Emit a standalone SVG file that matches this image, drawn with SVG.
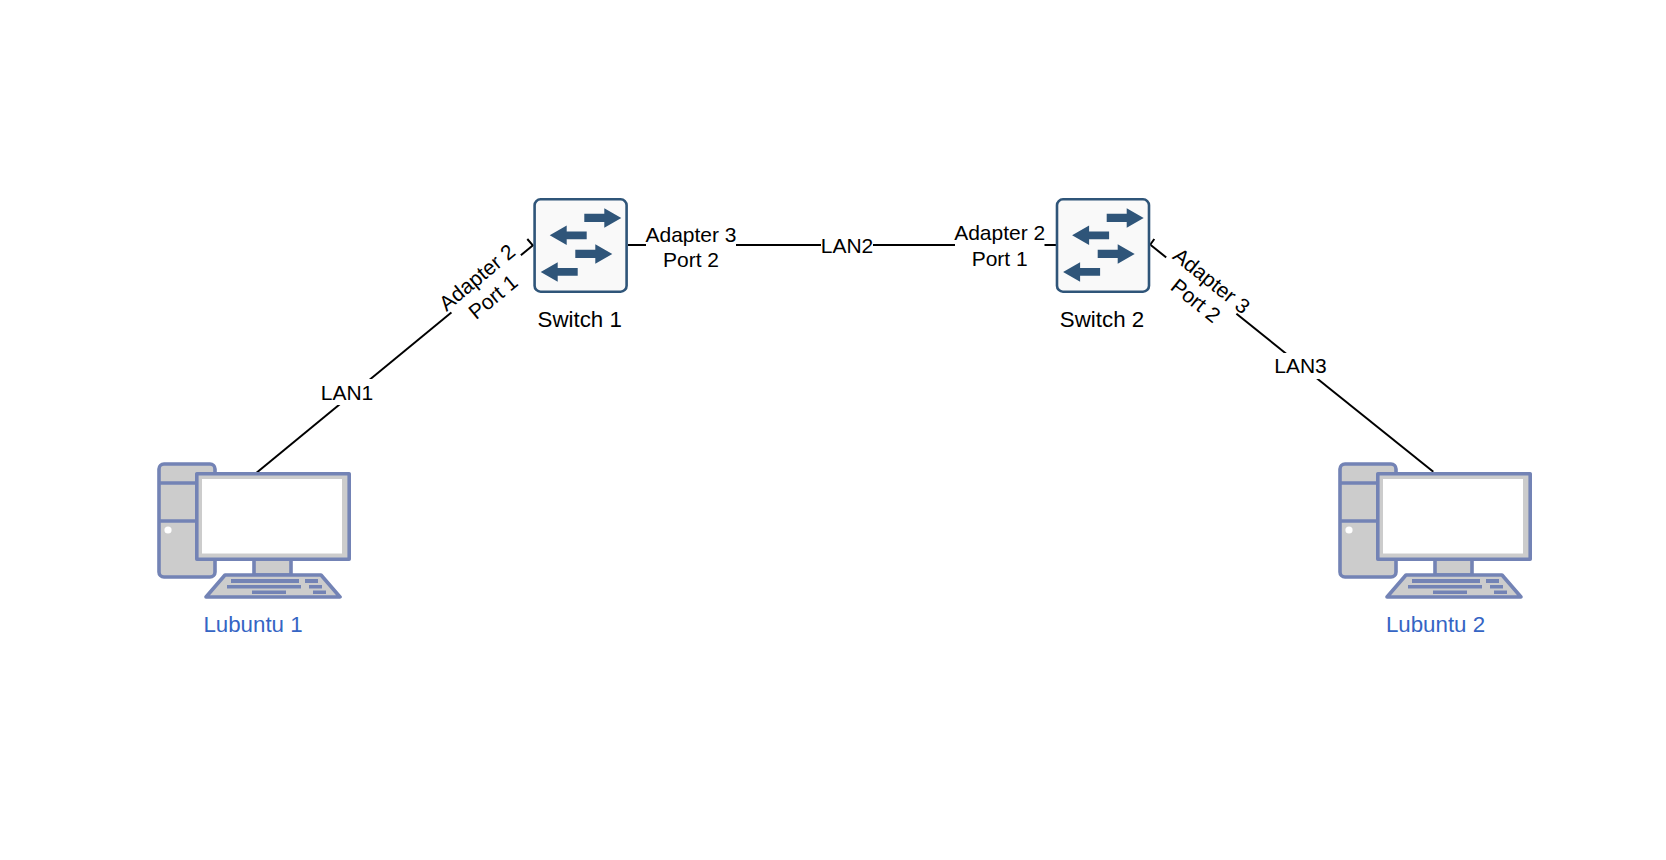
<svg xmlns="http://www.w3.org/2000/svg" width="1666" height="860" viewBox="0 0 1666 860">
<style>
text{font-family:"Liberation Sans",Arial,sans-serif;fill:#000}
.lbl{font-size:21px;text-anchor:middle}
.nm{font-size:22.300px;text-anchor:middle}
.pc{font-size:22.300px;text-anchor:middle;fill:#3565c4}
.bg{fill:#fff}
.wire{stroke:#000;stroke-width:2;fill:none}
.sw{fill:#f9f9f9;stroke:#2f5579;stroke-width:2.6}
.ar{fill:#2f5579}
.o{stroke:#7383b5;stroke-width:3.6;fill:#ccc;stroke-linejoin:round}
.k{fill:#7383b5}
</style>
<defs>
<g id="switch">
<rect class="sw" x="1.3" y="1.3" width="92" height="92.4" rx="6"/>
<path class="ar" d="M51 15.7H71V10.300L88 20L71 29.700V24H51Z"/>
<path class="ar" d="M16.4 37.300L33.400 27.600V33.500H53.400V41.200H33.400V47Z"/>
<path class="ar" d="M42 51.700H62V46.300L79 56L62 65.700V60H42Z"/>
<path class="ar" d="M7.400 74L24.400 64.300V70.100H44.400V77.800H24.400V83.700Z"/>
</g>
<g id="computer">
<path class="o" d="M159 469a5 5 0 0 1 5-5h46a5 5 0 0 1 5 5v103a5 5 0 0 1-5 5h-46a5 5 0 0 1-5-5Z"/>
<path class="o" d="M159 483H215M159 521H215"/>
<circle cx="168" cy="530" r="3.6" fill="#fff"/>
<rect class="o" x="254" y="559" width="37" height="16"/>
<path class="o" d="M225 575H321L340 597H206Z"/>
<path class="k" d="M231 579h68v4h-68ZM305 579h13v4h-13ZM227 585h74v3.600h-74ZM309 585h13v3.600h-13ZM252 590.400h34v3.600h-34ZM313 590.400h13v3.600h-13Z"/>
<rect class="o" x="196.800" y="473.800" width="152.400" height="85.400"/>
<rect x="202" y="479" width="140" height="74.500" fill="#fff"/>
</g>
</defs>
<g id="connectors">
<path class="wire" d="M255 474L533.300 245"/>
<path class="wire" d="M628 245H1056"/>
<path class="wire" d="M1150.700 245L1433.300 471.700"/>
<g id="label-lan1"><rect class="bg" x="322" y="379" width="50" height="26"/><text class="lbl" x="347" y="400">LAN1</text></g>
<g id="label-lan2"><rect class="bg" x="821" y="232" width="52" height="26"/><text class="lbl" x="847" y="252.700">LAN2</text></g>
<g id="label-lan3"><rect class="bg" x="1275" y="353" width="52" height="26"/><text class="lbl" x="1300.500" y="372.700">LAN3</text></g>
<g id="label-s1-left" transform="translate(486.300 284) rotate(-39.500)"><rect class="bg" x="-45" y="-26" width="90" height="52"/><text class="lbl" x="-3" y="-3.800">Adapter 2</text><text class="lbl" x="-3" y="21.500">Port 1</text></g>
<g id="label-s1-right"><rect class="bg" x="646" y="219" width="90" height="52"/><text class="lbl" x="691" y="241.700">Adapter 3</text><text class="lbl" x="691" y="267">Port 2</text></g>
<g id="label-s2-left"><rect class="bg" x="955" y="219" width="89.500" height="52"/><text class="lbl" x="999.700" y="240">Adapter 2</text><text class="lbl" x="999.700" y="265.500">Port 1</text></g>
<g id="label-s2-right" transform="translate(1200.700 286.300) rotate(38.700)"><rect class="bg" x="-45" y="-26" width="90" height="52"/><text class="lbl" x="5" y="-3.800">Adapter 3</text><text class="lbl" x="5" y="21.500">Port 2</text></g>
<path class="wire" d="M527.300 239L533 245.700M1154.300 239L1150 245"/>
</g>
<g id="switch-1"><use href="#switch" x="533.300" y="198"/><text class="nm" x="579.700" y="326.700">Switch 1</text></g>
<g id="switch-2"><use href="#switch" x="1055.700" y="198"/><text class="nm" x="1102" y="326.700">Switch 2</text></g>
<g id="lubuntu-1"><use href="#computer"/><text class="pc" x="253" y="632">Lubuntu 1</text></g>
<g id="lubuntu-2"><use href="#computer" x="1181"/><text class="pc" x="1435.500" y="632">Lubuntu 2</text></g>
</svg>
